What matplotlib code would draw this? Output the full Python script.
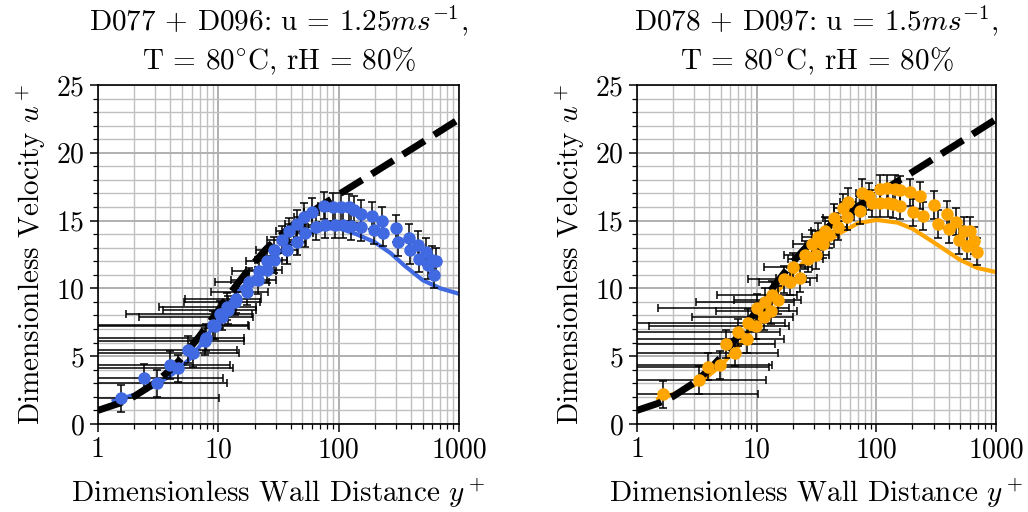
import numpy as np
import matplotlib.pyplot as plt
from matplotlib.ticker import MultipleLocator, LogLocator, NullFormatter

plt.rcParams['font.family'] = ['cmr10', 'DejaVu Serif']
plt.rcParams['mathtext.fontset'] = 'cm'
plt.rcParams['axes.formatter.use_mathtext'] = True
plt.rcParams['font.size'] = 20

# law of the wall (Reichardt profile), sampled
wall_y = [1, 1.5, 2, 3, 4, 5, 7, 10, 12, 15, 20, 25, 30, 40, 50, 70, 100, 200, 300, 500, 700, 1000]
wall_u = [1.0, 1.52, 2.03, 3.04, 4.0, 4.9, 6.49, 8.38, 9.4, 10.53, 11.93, 12.9, 13.6, 14.55, 15.2,
          16.05, 16.92, 18.58, 19.56, 20.79, 21.61, 22.48]

# simulation profiles
sim1_y = [1.35, 1.6, 2.2, 3, 4.2, 5.8, 8, 11, 15, 21, 30, 40, 55, 75, 100, 140, 200, 270, 350, 500, 700, 1000]
sim1_u = [1.7, 1.9, 2.25, 2.85, 3.7, 4.8, 6.4, 8.4, 9.9, 11.0, 12.4, 13.3, 14.0, 14.4, 14.45, 14.0,
          13.4, 12.6, 11.7, 10.6, 10.0, 9.6]
sim2_y = [1.5, 2, 3, 4, 5, 7, 10, 15, 20, 30, 50, 70, 100, 150, 200, 300, 500, 700, 1000]
sim2_u = [1.85, 2.2, 2.85, 3.6, 4.3, 5.7, 7.6, 9.8, 11.1, 12.7, 14.1, 14.8, 15.05, 14.85, 14.4,
          13.4, 12.1, 11.5, 11.2]

# measurements, u = 1.25 m/s
d077_y = [1.55, 3.1, 4.64, 6.2, 7.9, 9.0, 10.8, 12.1, 13.9, 17.9, 21.7, 25.5, 29.0, 33.8, 39.0, 44.7,
          51.5, 60.5, 75.5, 90, 105, 121, 135, 152, 190, 228, 302, 381, 453, 530, 600, 640]
d077_u = [1.9, 3.0, 4.1, 5.2, 6.35, 7.3, 7.9, 8.4, 9.2, 10.5, 11.3, 12.0, 12.8, 13.6, 14.2, 14.75,
          15.3, 15.66, 16.1, 16.0, 16.0, 15.98, 15.8, 15.5, 15.35, 15.0, 14.43, 13.75, 13.2, 12.7, 12.1, 12.0]
d096_y = [2.42, 4.0, 5.6, 7.7, 9.4, 10.3, 11.8, 13.8, 17.3, 21.3, 25.5, 28.9, 37, 45, 53, 64.3, 76.8,
          92.5, 108, 126, 152, 195, 234, 312, 391, 467, 550, 620]
d096_u = [3.42, 4.35, 5.46, 6.1, 7.25, 8.1, 8.65, 9.0, 9.76, 10.6, 11.36, 12.1, 12.8, 13.45, 14.06,
          14.55, 14.7, 14.7, 14.7, 14.6, 14.5, 14.3, 14.1, 13.4, 12.83, 12.2, 11.7, 11.0]

# measurements, u = 1.5 m/s
d078_y = [1.66, 3.94, 5.54, 7.02, 8.5, 10.1, 11.7, 13.3, 17.0, 20.2, 25.4, 28.8, 32.6, 37.2, 44.6,
          52.5, 58.3, 75.5, 87, 107, 123, 143, 157, 191, 231, 303, 387, 461, 540, 610, 656]
d078_u = [2.19, 4.23, 5.9, 6.76, 7.47, 8.58, 9.02, 9.51, 10.67, 11.6, 12.46, 13.3, 13.8, 14.23, 15.21,
          15.95, 16.4, 17.06, 16.8, 17.33, 17.38, 17.33, 17.26, 17.08, 16.84, 16.15, 15.46, 14.92,
          14.23, 14.23, 13.5]
d097_y = [3.31, 4.94, 6.58, 8.24, 9.87, 11.5, 13.2, 15.0, 19.0, 23.0, 27.0, 31.3, 35.5, 39.8, 48.0,
          56.6, 73, 91.5, 107, 125, 138, 157, 203, 243, 325, 405, 491, 570, 690]
d097_u = [3.24, 4.35, 5.26, 6.24, 7.23, 7.91, 8.36, 9.14, 10.5, 10.74, 12.2, 12.46, 13.27, 13.94,
          14.55, 15.29, 15.73, 16.28, 16.28, 16.28, 16.2, 16.1, 15.6, 15.34, 14.75, 14.36, 13.57,
          13.13, 12.7]

XERR = 8.6
YERR = 1.0

xticks = [1, 10, 100, 1000]
xticklabels = ['1', '10', '100', '1000']
yticks = [0, 5, 10, 15, 20, 25]

titles = ['D077 + D096: u = 1.25$ms^{-1}$,\nT = $80^{\\circ}$C, rH = 80%',
          'D078 + D097: u = 1.5$ms^{-1}$,\nT = $80^{\\circ}$C, rH = 80%']


def draw(ax, title, color, sim_y, sim_u, sets):
    ax.set_xscale('log')
    ax.plot(sim_y, sim_u, color=color, lw=3, zorder=2)
    ax.plot(wall_y, wall_u, 'k--', lw=5, zorder=3)
    for yy, uu in sets:
        ax.errorbar(yy, uu, xerr=XERR, yerr=YERR, fmt='o', ms=8, color=color,
                    ecolor='k', elinewidth=1.1, capsize=3, capthick=1.1, zorder=4)
    ax.set_xlim(1, 1000)
    ax.set_ylim(0, 25)
    ax.set_xticks(xticks)
    ax.set_xticklabels(xticklabels)
    ax.xaxis.set_minor_locator(LogLocator(base=10, subs=np.arange(2, 10)))
    ax.xaxis.set_minor_formatter(NullFormatter())
    ax.set_yticks(yticks)
    ax.yaxis.set_minor_locator(MultipleLocator(1))
    ax.grid(True, which='major', color='#b0b0b0', lw=1.4)
    ax.grid(True, which='minor', color='#c0c0c0', lw=1.0)
    ax.set_axisbelow(True)
    ax.tick_params(which='major', length=6, width=1.1, labelsize=20)
    ax.tick_params(which='minor', length=3.5, width=0.9)
    for sp in ax.spines.values():
        sp.set_linewidth(1.2)
    ax.set_title(title, fontsize=21, pad=11, linespacing=1.32)
    ax.set_xlabel('Dimensionless Wall Distance $y^+$', fontsize=21, labelpad=9)
    ax.set_ylabel('Dimensionless Velocity $u^+$', fontsize=21, labelpad=6)


fig = plt.figure(figsize=(10.28, 5.12), dpi=100)
ax1 = fig.add_axes([0.0953, 0.172, 0.3512, 0.662])
ax2 = fig.add_axes([0.6197, 0.172, 0.3493, 0.662])

draw(ax1, titles[0], 'royalblue', sim1_y, sim1_u, [(d077_y, d077_u), (d096_y, d096_u)])
draw(ax2, titles[1], 'orange', sim2_y, sim2_u, [(d078_y, d078_u), (d097_y, d097_u)])

fig.savefig('out.png', dpi=100)
